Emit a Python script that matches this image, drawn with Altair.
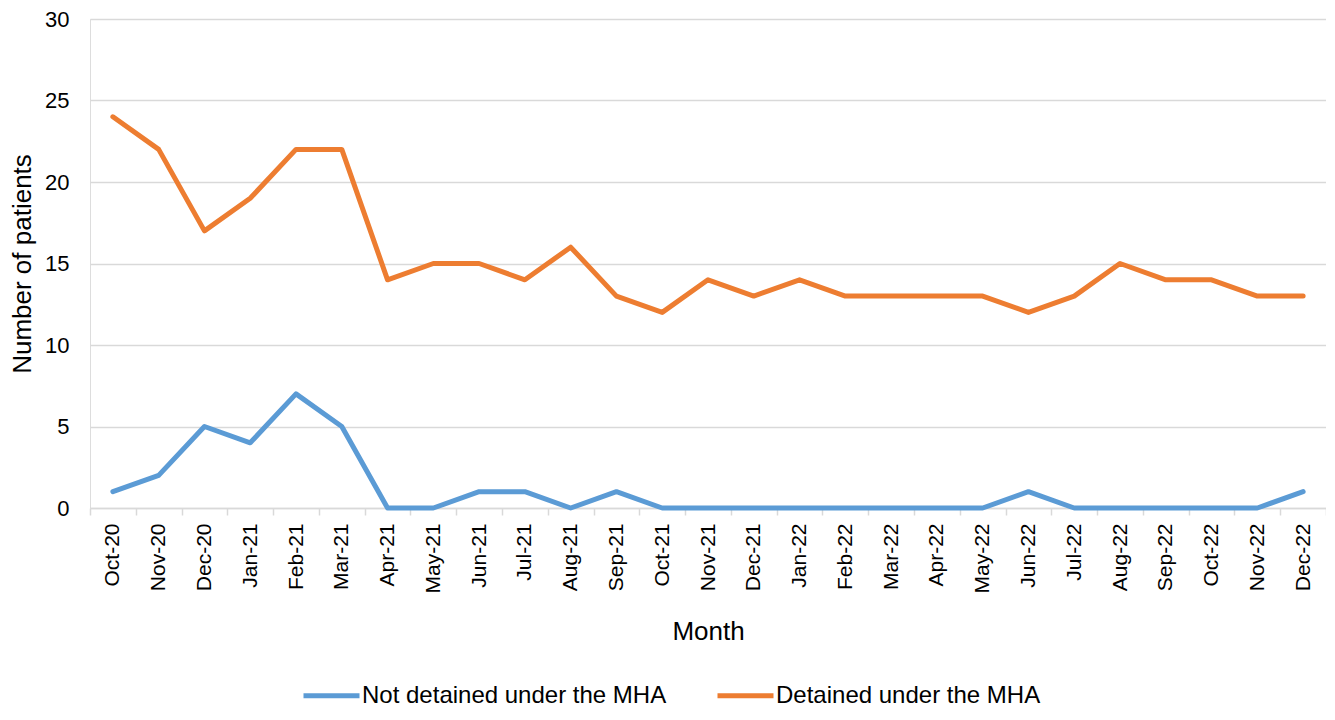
import altair as alt
import pandas as pd

months = ["Oct-20", "Nov-20", "Dec-20", "Jan-21", "Feb-21", "Mar-21", "Apr-21", "May-21",
          "Jun-21", "Jul-21", "Aug-21", "Sep-21", "Oct-21", "Nov-21", "Dec-21", "Jan-22",
          "Feb-22", "Mar-22", "Apr-22", "May-22", "Jun-22", "Jul-22", "Aug-22", "Sep-22",
          "Oct-22", "Nov-22", "Dec-22"]
not_detained = [1, 2, 5, 4, 7, 5, 0, 0, 1, 1, 0, 1, 0, 0, 0, 0, 0, 0, 0, 0, 1, 0, 0, 0, 0, 0, 1]
detained = [24, 22, 17, 19, 22, 22, 14, 15, 15, 14, 16, 13, 12, 14, 13, 14, 13, 13, 13, 13,
            12, 13, 15, 14, 14, 13, 13]
series_names = ["Not detained under the MHA", "Detained under the MHA"]
series_colors = ["#5B9BD5", "#ED7D31"]

rows = []
for name, vals in zip(series_names, [not_detained, detained]):
    for i, (m, v) in enumerate(zip(months, vals)):
        rows.append({"Month": m, "Patients": v, "Series": name, "order": i})
df = pd.DataFrame(rows)

FONT = "Liberation Sans"

chart = alt.Chart(df).mark_line(strokeWidth=5, strokeJoin="round", strokeCap="round").encode(
    x=alt.X("Month:N", sort=months, bandPosition=0.5,
            scale=alt.Scale(type="band", paddingInner=0, paddingOuter=0),
            axis=alt.Axis(title="Month", labelAngle=-90, labelAlign="right", labelBaseline="middle",
                          labelFontSize=21, labelColor="#000000", labelPadding=8,
                          titleFontSize=26, titleFontWeight="normal", titleColor="#000000",
                          titlePadding=25, tickBand="extent", tickSize=7, tickColor="#D9D9D9",
                          tickWidth=1.5, domainColor="#D9D9D9", domainWidth=1.5, grid=False,
                          labelFont=FONT, titleFont=FONT)),
    y=alt.Y("Patients:Q", scale=alt.Scale(domain=[0, 30], nice=False),
            axis=alt.Axis(title="Number of patients", values=[0, 5, 10, 15, 20, 25, 30],
                          labelFontSize=22, labelColor="#000000", labelPadding=21,
                          ticks=False, tickSize=0, domain=False, grid=True, gridColor="#D9D9D9",
                          gridWidth=1.5, titleFontSize=26, titleFontWeight="normal",
                          titleColor="#000000", titlePadding=9, labelFont=FONT, titleFont=FONT)),
    color=alt.Color("Series:N", scale=alt.Scale(domain=series_names, range=series_colors),
                    legend=alt.Legend(title=None, orient="none", direction="horizontal",
                                      legendX=211, legendY=646, symbolType="stroke",
                                      symbolSize=3136, symbolStrokeWidth=5,
                                      labelFontSize=24, labelColor="#000000", labelFont=FONT,
                                      labelOffset=0, columnPadding=40, labelLimit=500)),
    order="order:Q",
).properties(
    width=1236, height=489,
    autosize=alt.AutoSizeParams(type="none"),
    padding={"left": 82, "top": 11, "right": 0, "bottom": 205},
).configure_view(stroke=None).configure(font=FONT)

chart.save("out.html", embed_options={"renderer": "svg", "actions": False})
